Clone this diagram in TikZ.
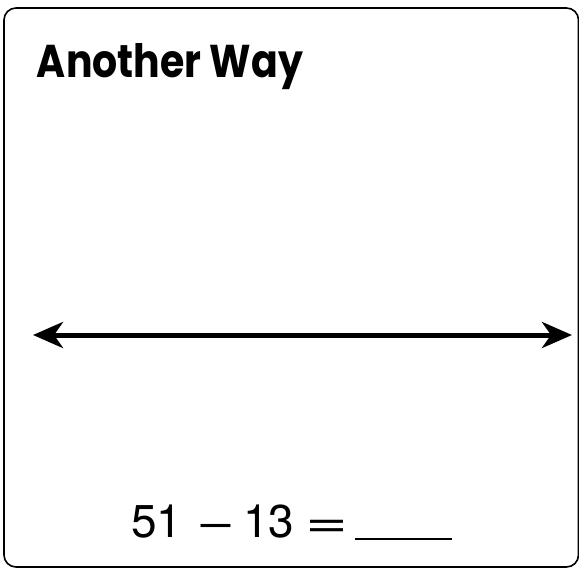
\documentclass[tikz,border=0pt]{standalone}
\usepackage{fontspec}
\setmainfont{TeX Gyre Heros}
\newfontfamily\titlefont{Poppins}
\usetikzlibrary{arrows.meta}
\tikzset{
  frame/.style={draw=black, line width=1.6pt, rounded corners=12pt},
  txt/.style={inner sep=0pt, outer sep=0pt, anchor=base west},
  eq/.style={txt, font=\fontsize{46}{50}\selectfont},
  bigarrow/.style={line width=5pt, {Stealth[length=30pt,width=26pt,inset=9pt]}-{Stealth[length=30pt,width=26pt,inset=9pt]}},
  blank/.style={line width=1.4pt}
}
\begin{document}
\begin{tikzpicture}[x=1pt, y=-1pt]
\useasboundingbox (0,0) rectangle (579,568);
\draw[frame] (4,8) rectangle (578.5,567);
\node[txt] (title) at (37,77) {\resizebox{266pt}{34pt}{\titlefont\bfseries Another Way}};
\coordinate (aL) at (33,335);
\coordinate (aR) at (572,335);
\draw[bigarrow] (aL) -- (aR);
\node[eq] (n51) at (131,537) {51};
\node[eq] (minus) at (196,537) {\scalebox{1.45}[1]{−}};
\node[eq] (n13) at (243,537) {13};
\node[eq] (equals) at (305,537) {\scalebox{1.6}[1]{=}};
\coordinate (bL) at (355,539);
\coordinate (bR) at (452,539);
\draw[blank] (bL) -- (bR);
\end{tikzpicture}
\end{document}
